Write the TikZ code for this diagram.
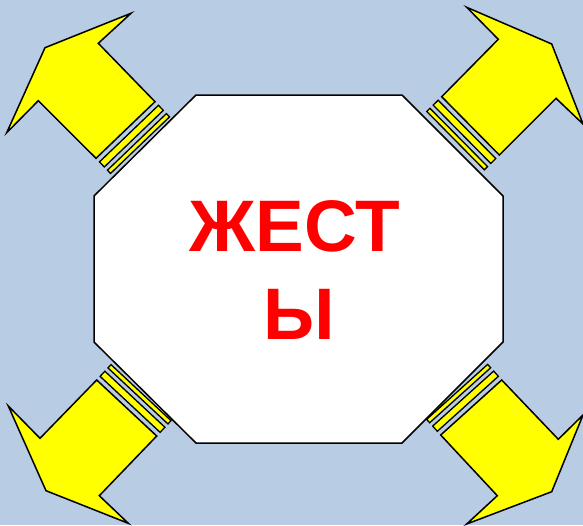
\documentclass[tikz,border=0pt]{standalone}
\usepackage{fontspec}
\newfontfamily\lsans{Liberation Sans}
\usetikzlibrary{calc}
\definecolor{bgblue}{RGB}{184,204,228}
\definecolor{arrowyellow}{RGB}{255,255,0}
\definecolor{textred}{RGB}{255,0,0}
\tikzset{
  arrowshape/.style={fill=arrowyellow,draw=black,line width=1.5pt,line join=miter},
  stripeshape/.style={fill=arrowyellow,draw=black,line width=1.3pt,line join=miter},
  octshape/.style={fill=white,draw=black,line width=1.5pt},
  bigtext/.style={text=textred,font=\lsans\bfseries\fontsize{73}{88}\selectfont,inner sep=0pt,anchor=base}
}
\newcommand\mystripes[2]{%
  \draw[stripeshape] ($(#1)!5pt!-90:(#2)$) -- ($(#2)!5pt!90:(#1)$) -- ($(#2)!12pt!90:(#1)$) -- ($(#1)!12pt!-90:(#2)$) -- cycle;
  \draw[stripeshape] ($(#1)!16.5pt!-90:(#2)$) -- ($(#2)!16.5pt!90:(#1)$) -- ($(#2)!21pt!90:(#1)$) -- ($(#1)!21pt!-90:(#2)$) -- cycle;
}
\begin{document}
\begin{tikzpicture}[x=1pt,y=-1pt]
\useasboundingbox (0,0) rectangle (583,525);
\fill[bgblue] (0,0) rectangle (583,525);
% octagon
\draw[octshape] (196,95) -- (402,95) -- (503,196) -- (503,342) -- (402,443) -- (196,443) -- (94,342) -- (94,196) -- cycle;
% top-left arrow
\coordinate (tlA) at (96,158.3);
\coordinate (tlB) at (155,101.7);
\draw[arrowshape] (6.7,132.7) -- (45,47.7) -- (131,13.3) -- (98.3,43.3) -- (tlB) -- (tlA) -- (38.3,100.7) -- cycle;
\mystripes{tlA}{tlB}
% top-right arrow
\coordinate (trA) at (441.7,96.7);
\coordinate (trB) at (499.3,155);
\draw[arrowshape] (466.7,7.3) -- (551.7,44) -- (583,124) -- (556,98.3) -- (trB) -- (trA) -- (498.3,39.3) -- cycle;
\mystripes{trA}{trB}
% bottom-left arrow
\coordinate (blA) at (156.7,436);
\coordinate (blB) at (96.7,380);
\draw[arrowshape] (8.3,406) -- (40,438.3) -- (blB) -- (blA) -- (99.3,495.7) -- (128.3,523.3) -- (46,490.7) -- cycle;
\mystripes{blA}{blB}
% bottom-right arrow
\coordinate (brA) at (501.7,380);
\coordinate (brB) at (440.7,435);
\draw[arrowshape] (brB) -- (brA) -- (558.3,439.3) -- (583,415) -- (551.7,491.7) -- (466.7,524) -- (497.3,495.7) -- cycle;
\mystripes{brA}{brB}
% text
\node[bigtext] (word1) at (295,251) {ЖЕСТ};
\node[bigtext] (word2) at (299,339) {Ы};
\end{tikzpicture}
\end{document}
